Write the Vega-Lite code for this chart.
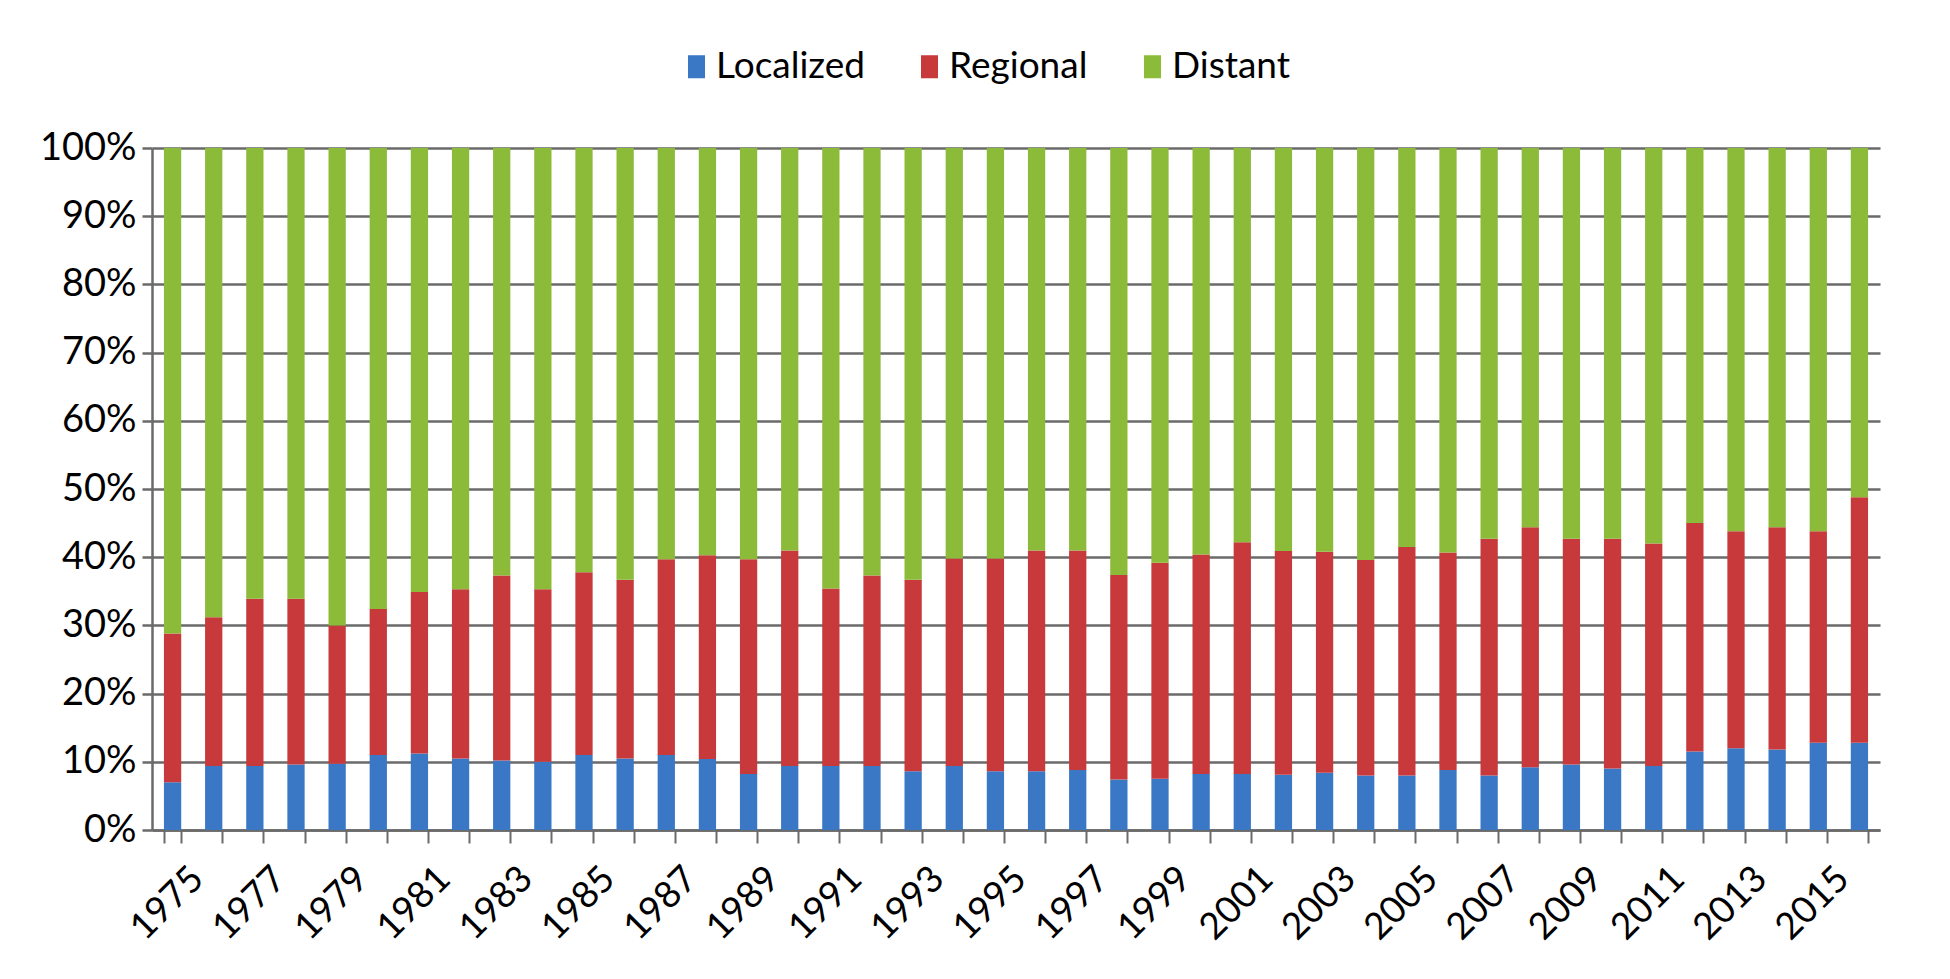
{
  "$schema": "https://vega.github.io/schema/vega-lite/v6.json",
  "width": 1728,
  "height": 682,
  "autosize": {"type": "none"},
  "padding": {"left": 152, "top": 148, "right": 70, "bottom": 149},
  "background": "white",
  "config": {
    "view": {"stroke": null},
    "font": "Lato",
    "axis": {"labelFont": "Lato", "labelColor": "#000000", "labelFontSize": 32, "labelFontWeight": "normal"},
    "legend": {"labelFont": "Lato"}
  },
  "data": {
    "values": [
      {"year":1975,"stage":"Localized","pct":7.0},{"year":1975,"stage":"Regional","pct":21.8},{"year":1975,"stage":"Distant","pct":71.2},
      {"year":1976,"stage":"Localized","pct":9.4},{"year":1976,"stage":"Regional","pct":21.8},{"year":1976,"stage":"Distant","pct":68.8},
      {"year":1977,"stage":"Localized","pct":9.4},{"year":1977,"stage":"Regional","pct":24.5},{"year":1977,"stage":"Distant","pct":66.1},
      {"year":1978,"stage":"Localized","pct":9.6},{"year":1978,"stage":"Regional","pct":24.3},{"year":1978,"stage":"Distant","pct":66.1},
      {"year":1979,"stage":"Localized","pct":9.7},{"year":1979,"stage":"Regional","pct":20.3},{"year":1979,"stage":"Distant","pct":70.0},
      {"year":1980,"stage":"Localized","pct":11.0},{"year":1980,"stage":"Regional","pct":21.4},{"year":1980,"stage":"Distant","pct":67.6},
      {"year":1981,"stage":"Localized","pct":11.2},{"year":1981,"stage":"Regional","pct":23.7},{"year":1981,"stage":"Distant","pct":65.1},
      {"year":1982,"stage":"Localized","pct":10.5},{"year":1982,"stage":"Regional","pct":24.8},{"year":1982,"stage":"Distant","pct":64.7},
      {"year":1983,"stage":"Localized","pct":10.2},{"year":1983,"stage":"Regional","pct":27.1},{"year":1983,"stage":"Distant","pct":62.7},
      {"year":1984,"stage":"Localized","pct":10.0},{"year":1984,"stage":"Regional","pct":25.3},{"year":1984,"stage":"Distant","pct":64.7},
      {"year":1985,"stage":"Localized","pct":11.0},{"year":1985,"stage":"Regional","pct":26.8},{"year":1985,"stage":"Distant","pct":62.2},
      {"year":1986,"stage":"Localized","pct":10.5},{"year":1986,"stage":"Regional","pct":26.2},{"year":1986,"stage":"Distant","pct":63.3},
      {"year":1987,"stage":"Localized","pct":11.0},{"year":1987,"stage":"Regional","pct":28.7},{"year":1987,"stage":"Distant","pct":60.3},
      {"year":1988,"stage":"Localized","pct":10.4},{"year":1988,"stage":"Regional","pct":29.9},{"year":1988,"stage":"Distant","pct":59.7},
      {"year":1989,"stage":"Localized","pct":8.2},{"year":1989,"stage":"Regional","pct":31.5},{"year":1989,"stage":"Distant","pct":60.3},
      {"year":1990,"stage":"Localized","pct":9.4},{"year":1990,"stage":"Regional","pct":31.6},{"year":1990,"stage":"Distant","pct":59.0},
      {"year":1991,"stage":"Localized","pct":9.4},{"year":1991,"stage":"Regional","pct":26.0},{"year":1991,"stage":"Distant","pct":64.6},
      {"year":1992,"stage":"Localized","pct":9.4},{"year":1992,"stage":"Regional","pct":27.9},{"year":1992,"stage":"Distant","pct":62.7},
      {"year":1993,"stage":"Localized","pct":8.6},{"year":1993,"stage":"Regional","pct":28.1},{"year":1993,"stage":"Distant","pct":63.3},
      {"year":1994,"stage":"Localized","pct":9.4},{"year":1994,"stage":"Regional","pct":30.4},{"year":1994,"stage":"Distant","pct":60.2},
      {"year":1995,"stage":"Localized","pct":8.6},{"year":1995,"stage":"Regional","pct":31.2},{"year":1995,"stage":"Distant","pct":60.2},
      {"year":1996,"stage":"Localized","pct":8.6},{"year":1996,"stage":"Regional","pct":32.4},{"year":1996,"stage":"Distant","pct":59.0},
      {"year":1997,"stage":"Localized","pct":8.8},{"year":1997,"stage":"Regional","pct":32.2},{"year":1997,"stage":"Distant","pct":59.0},
      {"year":1998,"stage":"Localized","pct":7.4},{"year":1998,"stage":"Regional","pct":30.0},{"year":1998,"stage":"Distant","pct":62.6},
      {"year":1999,"stage":"Localized","pct":7.5},{"year":1999,"stage":"Regional","pct":31.7},{"year":1999,"stage":"Distant","pct":60.8},
      {"year":2000,"stage":"Localized","pct":8.2},{"year":2000,"stage":"Regional","pct":32.2},{"year":2000,"stage":"Distant","pct":59.6},
      {"year":2001,"stage":"Localized","pct":8.2},{"year":2001,"stage":"Regional","pct":34.0},{"year":2001,"stage":"Distant","pct":57.8},
      {"year":2002,"stage":"Localized","pct":8.1},{"year":2002,"stage":"Regional","pct":32.8},{"year":2002,"stage":"Distant","pct":59.1},
      {"year":2003,"stage":"Localized","pct":8.4},{"year":2003,"stage":"Regional","pct":32.4},{"year":2003,"stage":"Distant","pct":59.2},
      {"year":2004,"stage":"Localized","pct":8.0},{"year":2004,"stage":"Regional","pct":31.6},{"year":2004,"stage":"Distant","pct":60.4},
      {"year":2005,"stage":"Localized","pct":8.0},{"year":2005,"stage":"Regional","pct":33.5},{"year":2005,"stage":"Distant","pct":58.5},
      {"year":2006,"stage":"Localized","pct":8.8},{"year":2006,"stage":"Regional","pct":31.9},{"year":2006,"stage":"Distant","pct":59.3},
      {"year":2007,"stage":"Localized","pct":8.0},{"year":2007,"stage":"Regional","pct":34.7},{"year":2007,"stage":"Distant","pct":57.3},
      {"year":2008,"stage":"Localized","pct":9.2},{"year":2008,"stage":"Regional","pct":35.2},{"year":2008,"stage":"Distant","pct":55.6},
      {"year":2009,"stage":"Localized","pct":9.6},{"year":2009,"stage":"Regional","pct":33.1},{"year":2009,"stage":"Distant","pct":57.3},
      {"year":2010,"stage":"Localized","pct":9.0},{"year":2010,"stage":"Regional","pct":33.7},{"year":2010,"stage":"Distant","pct":57.3},
      {"year":2011,"stage":"Localized","pct":9.4},{"year":2011,"stage":"Regional","pct":32.6},{"year":2011,"stage":"Distant","pct":58.0},
      {"year":2012,"stage":"Localized","pct":11.5},{"year":2012,"stage":"Regional","pct":33.5},{"year":2012,"stage":"Distant","pct":55.0},
      {"year":2013,"stage":"Localized","pct":12.0},{"year":2013,"stage":"Regional","pct":31.8},{"year":2013,"stage":"Distant","pct":56.2},
      {"year":2014,"stage":"Localized","pct":11.8},{"year":2014,"stage":"Regional","pct":32.6},{"year":2014,"stage":"Distant","pct":55.6},
      {"year":2015,"stage":"Localized","pct":12.8},{"year":2015,"stage":"Regional","pct":31.0},{"year":2015,"stage":"Distant","pct":56.2},
      {"year":2016,"stage":"Localized","pct":12.8},{"year":2016,"stage":"Regional","pct":36.0},{"year":2016,"stage":"Distant","pct":51.2}
    ]
  },
  "transform": [
    {"window": [{"op": "row_number", "as": "stack_rank"}], "groupby": ["year"]}
  ],
  "mark": {"type": "bar"},
  "encoding": {
    "x": {
      "field": "year",
      "type": "ordinal",
      "scale": {"paddingInner": 0.58, "paddingOuter": 0.29},
      "axis": {
        "title": null,
        "labelAngle": -45,
        "labelAlign": "right",
        "labelBaseline": "top",
        "labelFontSize": 37,
        "labelExpr": "datum.value % 2 == 1 ? datum.label : ''",
        "labelOverlap": false,
        "labelPadding": 17,
        "labelOffset": 12,
        "tickBand": "extent",
        "tickSize": 13,
        "tickWidth": 2,
        "tickColor": "#6a6a6a",
        "domainColor": "#6a6a6a",
        "domainWidth": 2.5,
        "grid": false
      }
    },
    "y": {
      "field": "pct",
      "type": "quantitative",
      "stack": "normalize",
      "scale": {"domain": [0, 1]},
      "axis": {
        "title": null,
        "values": [0, 0.1, 0.2, 0.3, 0.4, 0.5, 0.6, 0.7, 0.8, 0.9, 1],
        "format": ".0%",
        "labelFontSize": 38,
        "tickSize": 10,
        "tickWidth": 2.5,
        "tickColor": "#6a6a6a",
        "domainColor": "#6a6a6a",
        "domainWidth": 2.5,
        "labelPadding": 6,
        "grid": true,
        "gridColor": "#6a6a6a",
        "gridWidth": 2.5
      }
    },
    "order": {"field": "stack_rank", "type": "quantitative", "sort": "ascending"},
    "color": {
      "field": "stage",
      "type": "nominal",
      "sort": ["Localized", "Regional", "Distant"],
      "scale": {"domain": ["Localized", "Regional", "Distant"], "range": ["#3a78c6", "#c8393c", "#8cbb3a"]},
      "legend": {
        "title": null,
        "orient": "none",
        "direction": "horizontal",
        "legendX": 526,
        "legendY": -100,
        "padding": 0,
        "symbolType": "M-0.74,-1H0.74V1H-0.74Z",
        "symbolSize": 530,
        "symbolStrokeWidth": 0,
        "labelFontSize": 37,
        "labelColor": "#000000",
        "labelOffset": 1,
        "columnPadding": 46
      }
    }
  }
}
